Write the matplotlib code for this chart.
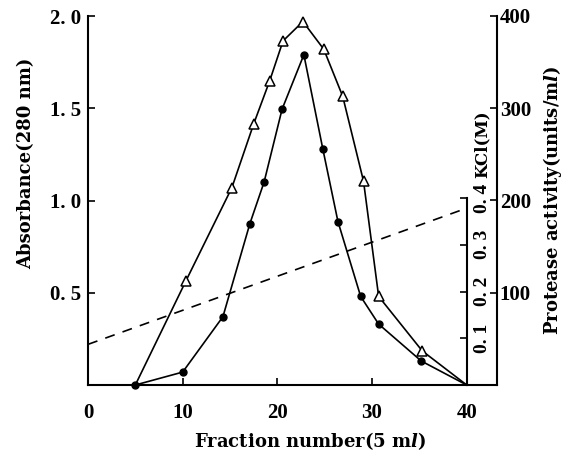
import matplotlib
matplotlib.use('Agg')
import matplotlib.pyplot as plt

# absorbance at 280 nm (filled circles)
fraction_abs = [5, 10, 14.25, 17.1, 18.6, 20.5, 22.8, 24.8, 26.4, 28.8, 30.7, 35.2, 40]
absorbance = [0, 0.07, 0.37, 0.875, 1.10, 1.495, 1.79, 1.28, 0.886, 0.48, 0.33, 0.13, 0]

# protease activity (open triangles)
fraction_act = [5, 10.35, 15.2, 17.5, 19.2, 20.6, 22.7, 24.9, 26.9, 29.1, 30.7, 35.3, 40]
activity = [0, 113, 214, 283, 330, 373, 394, 364, 313, 221, 96, 37, 0]

# KCl gradient (dashed)
fraction_kcl = [0, 39.5]
kcl = [0.087, 0.375]

x_ticks = [0, 10, 20, 30, 40]
abs_ticks = [0.5, 1.0, 1.5, 2.0]
abs_labels = ['0. 5', '1. 0', '1. 5', '2. 0']
act_ticks = [100, 200, 300, 400]
kcl_ticks = [0.1, 0.2, 0.3, 0.4]
kcl_labels = ['0. 1', '0. 2', '0. 3', '0. 4']

plt.rcParams['font.family'] = 'DejaVu Serif'
plt.rcParams['font.weight'] = 'bold'
plt.rcParams['mathtext.fontset'] = 'dejavuserif'
lab_fs = 13
num_font = dict(family='Liberation Serif', size=15, weight='bold')

fig = plt.figure(figsize=(5.65, 4.54), dpi=100)
ax = fig.add_axes([88/565, 1-385/454, 409/565, 369/454])
ax.set_xlim(0, 43.2)
ax.set_ylim(0, 2.0)
ax.spines['top'].set_visible(False)
ax.spines['right'].set_visible(False)
for s in ['left', 'bottom']:
    ax.spines[s].set_linewidth(1.5)
ax.set_xticks(x_ticks)
ax.set_xticklabels([str(t) for t in x_ticks], fontdict=num_font)
ax.set_yticks(abs_ticks)
ax.set_yticklabels(abs_labels, fontdict=num_font)
ax.tick_params(direction='in', length=5, width=1.2, pad=5)
ax.tick_params(axis='x', pad=13)
ax.set_xlabel('Fraction number(5 m$\\boldsymbol{l}$)', fontsize=lab_fs, fontweight='bold')
ax.xaxis.set_label_coords(0.543, -0.122)
ax.set_ylabel('Absorbance(280 nm)', fontsize=lab_fs, fontweight='bold')
ax.yaxis.set_label_coords(-0.13, 0.60)

ax.plot(fraction_abs, absorbance, color='black', lw=1.2, marker='o', ms=5,
        markevery=list(range(len(fraction_abs) - 1)), clip_on=False, zorder=3)

# protease activity axis
ax2 = ax.twinx()
ax2.set_ylim(0, 400)
for s in ['top', 'left', 'bottom']:
    ax2.spines[s].set_visible(False)
ax2.spines['right'].set_linewidth(1.5)
ax2.set_yticks(act_ticks)
ax2.set_yticklabels([str(t) for t in act_ticks], fontdict=num_font)
ax2.tick_params(direction='in', length=5, width=1.2, pad=2)
ax2.set_ylabel('Protease activity(units/m$\\boldsymbol{l}$)', fontsize=lab_fs, fontweight='bold')
ax2.yaxis.set_label_coords(1.108, 0.5)
ax2.plot(fraction_act, activity, color='black', lw=1.2, marker='^', ms=7,
         mfc='white', mec='black', mew=1.1,
         markevery=list(range(1, len(fraction_act) - 1)), clip_on=False, zorder=3)

# KCl axis
ax3 = ax.twinx()
ax3.set_ylim(0, 0.79)
for s in ['top', 'left', 'bottom']:
    ax3.spines[s].set_visible(False)
ax3.spines['right'].set_position(('data', 40))
ax3.spines['right'].set_bounds(0, 0.4)
ax3.spines['right'].set_linewidth(1.5)
ax3.set_yticks(kcl_ticks)
ax3.set_yticklabels(kcl_labels, fontdict=dict(num_font, size=14), rotation=90, va='center')
ax3.tick_params(direction='in', length=5, width=1.2, pad=5)
ax3.plot(fraction_kcl, kcl, color='black', lw=1.2, ls=(0, (6, 5)))
fig.text(482/565, 1-178/454, 'KCl(M)', rotation=90, ha='center', va='bottom',
         fontsize=12, fontweight='bold')

fig.savefig('out.png', dpi=100)
